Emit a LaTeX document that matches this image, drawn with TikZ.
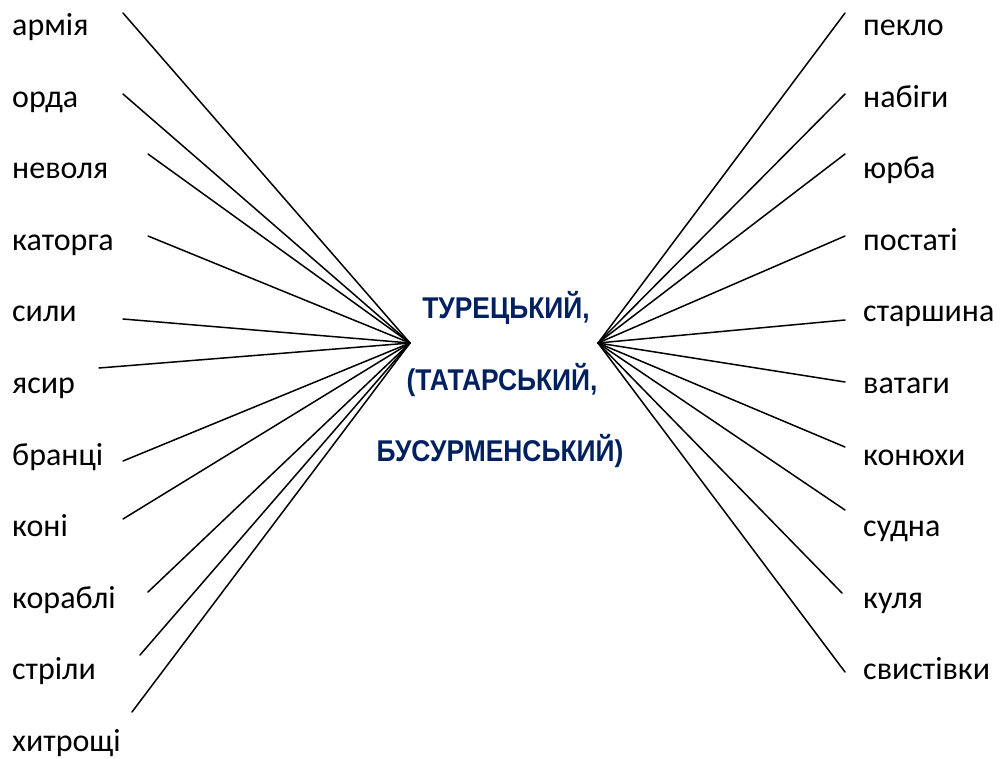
\documentclass[tikz,border=0pt]{standalone}
\usepackage{fontspec}
\setmainfont{Carlito}
\newfontfamily\headfont[FakeStretch=0.88]{Liberation Sans}
\definecolor{navy}{RGB}{0,32,96}
\begin{document}
\begin{tikzpicture}[x=1pt,y=-1pt,
  word/.style={inner sep=0pt,font=\fontsize{32}{32}\selectfont},
  lword/.style={word,anchor=base west},
  head/.style={inner sep=0pt,anchor=base,text=navy,font=\headfont\bfseries\fontsize{30}{30}\selectfont},
  ray/.style={line width=1.5pt,line cap=round}]
\useasboundingbox (0,0) rectangle (1000,758);

% left column
\node[lword] (armiya)   at (12,35)  {армія};
\node[lword] (orda)     at (12,107) {орда};
\node[lword] (nevolya)  at (12,178) {неволя};
\node[lword] (katorga)  at (12,250) {каторга};
\node[lword] (syly)     at (12,321) {сили};
\node[lword] (yasyr)    at (12,393) {ясир};
\node[lword] (brantsi)  at (12,465) {бранці};
\node[lword] (koni)     at (12,536) {коні};
\node[lword] (korabli)  at (12,608) {кораблі};
\node[lword] (strily)   at (12,679) {стріли};
\node[lword] (khytr)    at (12,751) {хитрощі};

% right column
\node[lword] (peklo)    at (863,35)  {пекло};
\node[lword] (nabihy)   at (863,107) {набіги};
\node[lword] (yurba)    at (863,178) {юрба};
\node[lword] (postati)  at (863,250) {постаті};
\node[lword] (starsh)   at (863,321) {старшина};
\node[lword] (vatahy)   at (863,393) {ватаги};
\node[lword] (koniukhy) at (863,465) {конюхи};
\node[lword] (sudna)    at (863,536) {судна};
\node[lword] (kulya)    at (863,608) {куля};
\node[lword] (svyst)    at (863,679) {свистівки};

% central title
\node[head] (t1) at (506,318) {ТУРЕЦЬКИЙ,};
\node[head] (t2) at (502,390) {(ТАТАРСЬКИЙ,};
\node[head] (t3) at (500,461) {БУСУРМЕНСЬКИЙ)};

% hubs where the rays meet
\coordinate (hl) at (410,343);
\coordinate (hr) at (598,343);

% free ends of the left rays
\coordinate (la1)  at (123,13);
\coordinate (la2)  at (123,94);
\coordinate (la3)  at (148,154);
\coordinate (la4)  at (148,236);
\coordinate (la5)  at (123,319);
\coordinate (la6)  at (99,368);
\coordinate (la7)  at (123,461);
\coordinate (la8)  at (123,519);
\coordinate (la9)  at (148,592);
\coordinate (la10) at (140,655);
\coordinate (la11) at (132,712);

% free ends of the right rays
\coordinate (ra1)  at (845,13);
\coordinate (ra2)  at (845,94);
\coordinate (ra3)  at (845,154);
\coordinate (ra4)  at (845,236);
\coordinate (ra5)  at (845,320);
\coordinate (ra6)  at (845,382);
\coordinate (ra7)  at (845,447);
\coordinate (ra8)  at (845,510);
\coordinate (ra9)  at (842,593);
\coordinate (ra10) at (845,672);

\foreach \i in {1,...,11} \draw[ray] (la\i) -- (hl);
\foreach \i in {1,...,10} \draw[ray] (ra\i) -- (hr);
\end{tikzpicture}
\end{document}
